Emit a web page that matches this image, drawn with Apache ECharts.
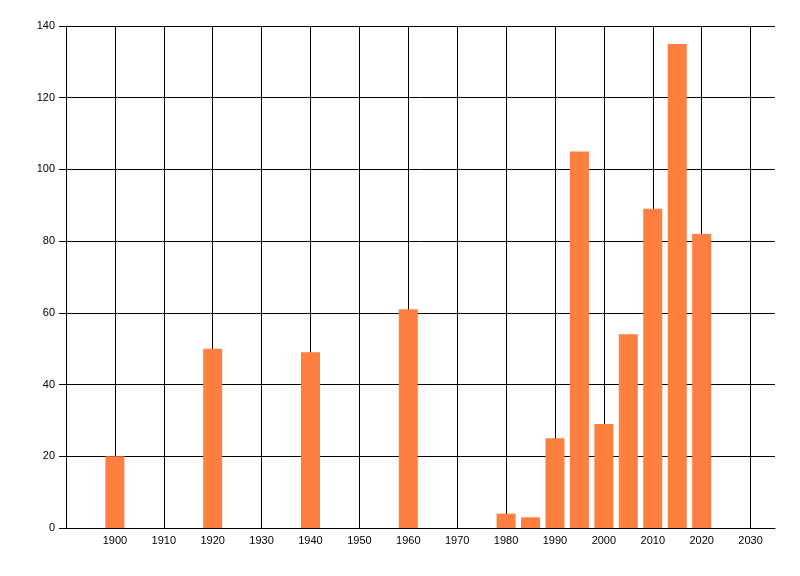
<!DOCTYPE html>
<html>
<head>
<meta charset="utf-8">
<script src="https://cdn.jsdelivr.net/npm/echarts@6/dist/echarts.min.js"></script>
<style>
  html, body { margin: 0; padding: 0; background: #fff; }
  #chart { width: 800px; height: 576px; }
</style>
</head>
<body>
<div id="chart"></div>
<script>
var years = [1900, 1920, 1940, 1960, 1980, 1985, 1990, 1995, 2000, 2005, 2010, 2015, 2020];
var valores = [20, 50, 49, 61, 4, 3, 25, 105, 29, 54, 89, 135, 82];

var FUENTE = {
    color: '#000',
    fontSize: 11,
    fontFamily: 'Liberation Sans, Arial, sans-serif'
};

var chart = echarts.init(document.getElementById('chart'));
chart.setOption({
    animation: false,
    grid: { left: 66, right: 25, top: 26, bottom: 48 },
    xAxis: {
        type: 'value',
        min: 1890,
        max: 2035,
        interval: 10,
        axisLine: { show: true, lineStyle: { color: '#000', width: 1 } },
        axisTick: { show: false },
        axisLabel: {
            color: FUENTE.color,
            fontSize: FUENTE.fontSize,
            fontFamily: FUENTE.fontFamily,
            margin: 7,
            showMinLabel: false,
            showMaxLabel: false,
            formatter: function (v) {
                return (v < 1900 || v > 2030) ? '' : String(v);
            }
        },
        splitLine: {
            show: true,
            showMaxLine: false,
            lineStyle: { color: '#000', width: 1 }
        }
    },
    yAxis: {
        type: 'value',
        min: 0,
        max: 140,
        interval: 20,
        axisLine: { show: true, lineStyle: { color: '#000', width: 1 } },
        axisTick: { show: true, length: 7, lineStyle: { color: '#000' } },
        axisLabel: {
            color: FUENTE.color,
            fontSize: FUENTE.fontSize,
            fontFamily: FUENTE.fontFamily,
            margin: 11
        },
        splitLine: { show: true, lineStyle: { color: '#000', width: 1 } }
    },
    series: [{
        type: 'bar',
        barWidth: 19,
        itemStyle: { color: '#FF7F40' },
        data: years.map(function (y, i) { return [y, valores[i]]; })
    }]
});
</script>
</body>
</html>
